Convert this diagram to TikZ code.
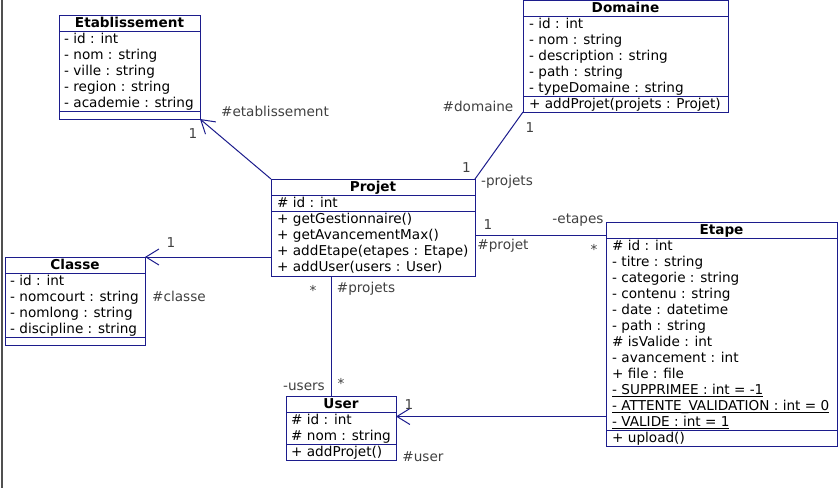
\documentclass[tikz,border=0pt]{standalone}
\usepackage{fontspec}
\setmainfont{DejaVu Sans}
\usetikzlibrary{arrows.meta,calc}
\definecolor{umlblue}{RGB}{28,28,140}
\definecolor{lblgray}{RGB}{64,64,64}
\definecolor{edgegray}{RGB}{80,80,80}
\tikzset{
 cls/.style={draw=umlblue, line width=1pt, inner sep=0, outer sep=0, anchor=north west, fill=white},
 sepline/.style={draw=umlblue, line width=1pt},
 txt/.style={inner sep=0, anchor=base west, font=\fontsize{13.6}{16}\selectfont},
 ttl/.style={inner sep=0, anchor=base, font=\fontsize{13.6}{16}\selectfont\bfseries},
 lbl/.style={inner sep=0, anchor=base, text=lblgray, font=\fontsize{13.6}{16}\selectfont},
 conn/.style={draw=umlblue, line width=1pt},
 nav/.style={conn, -{Straight Barb[length=13pt,width=16pt,line width=1pt]}},
}
\newsavebox\ulbox
\newcommand\myul[1]{\sbox\ulbox{#1}\rlap{\usebox\ulbox}\rule[-3pt]{\wd\ulbox}{0.9pt}}
\newcommand\classlines[4]{%
  \foreach \t [count=\i from 0] in {#4}{\node[txt] (#1-\i) at (#2,{#3+16*\i+12}) {\t};}}
\newcommand\hsep[2]{\draw[sepline] ($(#1.north west)+(0,#2)$) -- ($(#1.north east)+(0,#2)$);}
\begin{document}
\begin{tikzpicture}[x=1pt,y=-1pt]
\useasboundingbox (0,0) rectangle (839,488);
\draw[edgegray, line width=1.3pt] (2,0) -- (2,488);

% Etablissement
\node[cls, minimum width=141pt, minimum height=104pt] (etab) at (59,15) {};
\node[ttl] (etab-t) at (129.5,27) {Etablissement};
\hsep{etab}{16}\hsep{etab}{96}
\classlines{etaba}{64}{31}{{- id : int},{- nom : string},{- ville : string},{- region : string},{- academie : string}}

% Domaine
\node[cls, minimum width=205pt, minimum height=111.5pt] (dom) at (523,0.5) {};
\node[ttl] (dom-t) at (625.5,12) {Domaine};
\hsep{dom}{15.5}\hsep{dom}{95.5}
\classlines{doma}{529}{16}{{- id : int},{- nom : string},{- description : string},{- path : string},{- typeDomaine : string},{+ addProjet(projets : Projet)}}

% Projet
\node[cls, minimum width=204pt, minimum height=97pt] (proj) at (271,179) {};
\node[ttl] (proj-t) at (373,191) {Projet};
\hsep{proj}{16}\hsep{proj}{32}
\classlines{proja}{277}{195}{{\# id : int},{+ getGestionnaire()},{+ getAvancementMax()},{+ addEtape(etapes : Etape)},{+ addUser(users : User)}}

% Classe
\node[cls, minimum width=140pt, minimum height=88pt] (cl) at (5,257) {};
\node[ttl] (cl-t) at (75,269) {Classe};
\hsep{cl}{16}\hsep{cl}{80}
\classlines{cla}{10}{273}{{- id : int},{- nomcourt : string},{- nomlong : string},{- discipline : string}}

% Etape
\node[cls, minimum width=231pt, minimum height=224pt] (etp) at (606,222) {};
\node[ttl] (etp-t) at (721.5,234) {Etape};
\hsep{etp}{16}\hsep{etp}{208}
\classlines{etpa}{612}{238}{{\# id : int},{- titre : string},{- categorie : string},{- contenu : string},{- date : datetime},{- path : string},{\# isValide : int},{- avancement : int},{+ file : file},{\myul{- SUPPRIMEE : int = -1}},{\myul{- ATTENTE\_VALIDATION : int = 0}},{\myul{- VALIDE : int = 1}},{+ upload()}}

% User
\node[cls, minimum width=110pt, minimum height=64pt] (usr) at (286,396) {};
\node[ttl] (usr-t) at (341,408) {User};
\hsep{usr}{16}\hsep{usr}{48}
\classlines{usra}{291}{412}{{\# id : int},{\# nom : string},{+ addProjet()}}

% connectors
\coordinate (ux) at (331.5,0);
\coordinate (ey) at (0,235.5);
\coordinate (uy) at (0,416.5);
\draw[nav] (proj.north west) -- (etab.south east);
\draw[conn] (proj.north east) -- (dom.south west);
\draw[nav] (proj.west |- cl.north east) -- (cl.north east);
\draw[conn] (proj.east |- ey) -- (etp.west |- ey);
\draw[conn] (proj.south -| ux) -- (usr.north -| ux);
\draw[nav] (etp.west |- uy) -- (usr.east |- uy);

% labels
\node[lbl] (l1) at (275,116) {\#etablissement};
\node[lbl] (l2) at (193,138) {1};
\node[lbl] (l3) at (478,111) {\#domaine};
\node[lbl] (l4) at (530,132) {1};
\node[lbl] (l5) at (466.5,172) {1};
\node[lbl] (l6) at (507,185) {-projets};
\node[lbl] (l7) at (171,247) {1};
\node[lbl] (l8) at (179,301) {\#classe};
\node[lbl] (l9) at (488,229) {1};
\node[lbl] (l10) at (503,249) {\#projet};
\node[lbl] (l11) at (578,223) {-etapes};
\node[lbl] (l12) at (594,254) {*};
\node[lbl] (l13) at (313,295) {*};
\node[lbl] (l14) at (366,292) {\#projets};
\node[lbl] (l15) at (304,390) {-users};
\node[lbl] (l16) at (341,388) {*};
\node[lbl] (l17) at (409,409) {1};
\node[lbl] (l18) at (423,461) {\#user};
\end{tikzpicture}
\end{document}
